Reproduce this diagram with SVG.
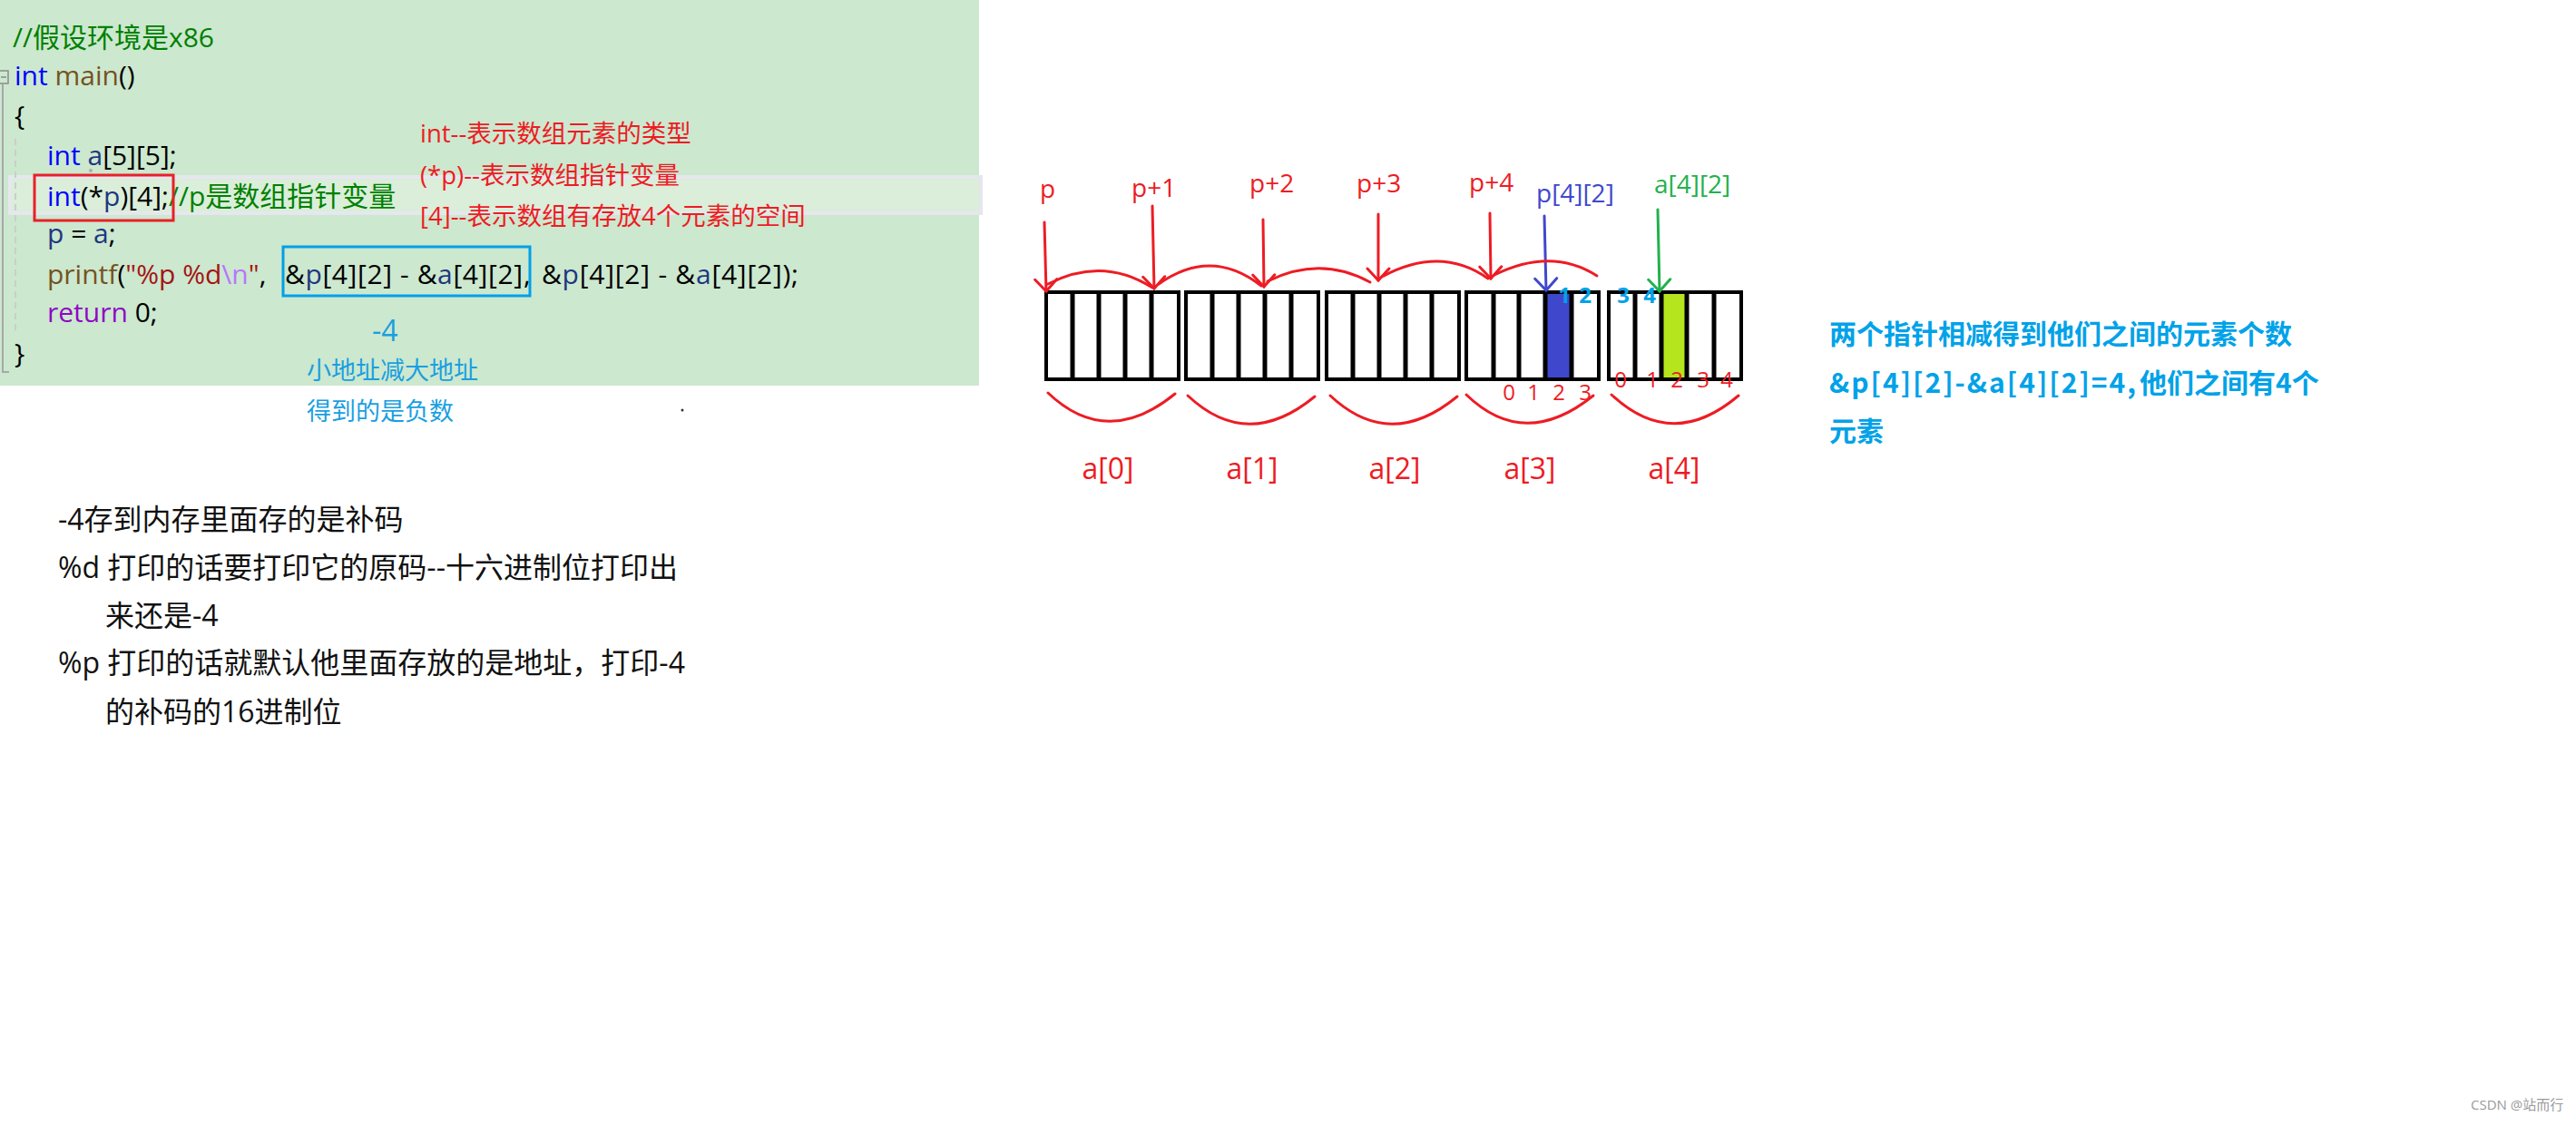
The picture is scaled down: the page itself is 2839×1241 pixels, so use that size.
<svg xmlns="http://www.w3.org/2000/svg" width="2839" height="1241" viewBox="0 0 2839 1241">
<defs>
<style>
text{font-family:'Open Sans','Noto Sans CJK SC',sans-serif;}
.code{font-size:30px;fill:#000;}
.kw{fill:#0000ff}.fn{fill:#74531f}.var{fill:#1f377f}.cm{fill:#008000}.str{fill:#a31515}.esc{fill:#b776fb}.ret{fill:#8f08c4}
.ann{font-size:27.5px;fill:#ed1c24;}
.note{font-size:27px;fill:#1a9fe0;}
.body{font-size:32px;fill:#111;}
.lbl{font-size:28px;fill:#ed1c24;}
.alb{font-size:32px;fill:#ed1c24;text-anchor:middle;}
.idx{font-size:24px;fill:#ed1c24;text-anchor:middle;}
.bidx{font-size:24px;font-weight:700;fill:#00a2e8;text-anchor:middle;}
.right{font-family:'Noto Sans CJK SC',sans-serif;font-size:30px;font-weight:700;fill:#00a2e8;}
.box{fill:#fff;stroke:#000;stroke-width:4;}
.div{stroke:#000;stroke-width:5;}
.red{fill:none;stroke:#ed1c24;stroke-width:3;stroke-linecap:round;}
.blu{fill:none;stroke:#3f48cc;stroke-width:3;stroke-linecap:round;}
.grn{fill:none;stroke:#22b14c;stroke-width:3;stroke-linecap:round;}
</style>
<marker id="hr" viewBox="-16 -14 18 28" markerWidth="18" markerHeight="28" refX="0" refY="0" orient="auto" markerUnits="userSpaceOnUse"><path d="M-13,-12 L0,0 L-13,12" fill="none" stroke="#ed1c24" stroke-width="3" stroke-linecap="round"/></marker>
<marker id="hb" viewBox="-16 -14 18 28" markerWidth="18" markerHeight="28" refX="0" refY="0" orient="auto" markerUnits="userSpaceOnUse"><path d="M-13,-12 L0,0 L-13,12" fill="none" stroke="#3f48cc" stroke-width="3" stroke-linecap="round"/></marker>
<marker id="hg" viewBox="-16 -14 18 28" markerWidth="18" markerHeight="28" refX="0" refY="0" orient="auto" markerUnits="userSpaceOnUse"><path d="M-13,-12 L0,0 L-13,12" fill="none" stroke="#22b14c" stroke-width="3" stroke-linecap="round"/></marker>
</defs>
<rect width="2839" height="1241" fill="#fff"/>

<g id="code">
<rect x="0" y="0" width="1079" height="425" fill="#cce8cf"/>
<rect x="11" y="195" width="1070" height="40" fill="#daeeda" stroke="#e6e7ee" stroke-width="4"/>
<rect x="-4" y="78" width="13" height="14" fill="none" stroke="#8a8a8a" stroke-width="1.5"/>
<line x1="1" y1="85" x2="7" y2="85" stroke="#8a8a8a" stroke-width="1.5"/>
<path d="M3,93 V410 H10" fill="none" stroke="#a8a8a8" stroke-width="2"/>
<line x1="17" y1="153" x2="17" y2="367" stroke="#c9cfc9" stroke-width="2" stroke-dasharray="7,5"/>
<circle cx="100" cy="188" r="2" fill="#a8b0a8"/>
<text class="code" x="14" y="52"><tspan class="cm">//假设环境是x86</tspan></text>
<text class="code" x="16" y="94"><tspan class="kw">int</tspan><tspan class="fn"> main</tspan>()</text>
<text class="code" x="16" y="138">{</text>
<text class="code" x="52" y="182"><tspan class="kw">int</tspan> <tspan class="var">a</tspan>[5][5];</text>
<text class="code" x="52" y="227"><tspan class="kw">int</tspan>(*<tspan class="var">p</tspan>)[4];<tspan class="cm">//p是数组指针变量</tspan></text>
<text class="code" x="52" y="268"><tspan class="var">p</tspan> = <tspan class="var">a</tspan>;</text>
<text class="code" x="52" y="313"><tspan class="fn">printf</tspan>(<tspan class="str">"%p %d</tspan><tspan class="esc">\n</tspan><tspan class="str">"</tspan>, </text>
<text class="code" x="314" y="313" textLength="262" lengthAdjust="spacing">&amp;<tspan class="var">p</tspan>[4][2] - &amp;<tspan class="var">a</tspan>[4][2]</text>
<text class="code" x="577" y="313">,</text>
<text class="code" x="597" y="313" textLength="283" lengthAdjust="spacing">&amp;<tspan class="var">p</tspan>[4][2] - &amp;<tspan class="var">a</tspan>[4][2]);</text>
<text class="code" x="52" y="355"><tspan class="ret">return</tspan> 0;</text>
<text class="code" x="16" y="400">}</text>
<rect x="38" y="193" width="153" height="50" fill="none" stroke="#e8202a" stroke-width="3"/>
<rect x="312" y="272" width="272" height="54" fill="none" stroke="#00a0e8" stroke-width="3"/>
</g>

<g id="annotations">
<text class="ann" x="463" y="157">int--表示数组元素的类型</text>
<text class="ann" x="463" y="203">(*p)--表示数组指针变量</text>
<text class="ann" x="463" y="248">[4]--表示数组有存放4个元素的空间</text>
<text x="410" y="376" font-size="32" fill="#1a9fe0">-4</text>
<text class="note" x="338" y="418">小地址减大地址</text>
<text class="note" x="338" y="463">得到的是负数</text>
<circle cx="752" cy="452" r="1.5" fill="#333"/>
</g>

<g id="explain">
<text class="body" x="64" y="584">-4存到内存里面存的是补码</text>
<text class="body" x="64" y="637">%d 打印的话要打印它的原码--十六进制位打印出</text>
<text class="body" x="116" y="690">来还是-4</text>
<text class="body" x="64" y="742">%p 打印的话就默认他里面存放的是地址，打印-4</text>
<text class="body" x="116" y="796">的补码的16进制位</text>
</g>

<g id="a0">
<rect class="box" x="1153" y="322" width="146" height="96"/>
<path class="div" d="M1182,322V418M1211,322V418M1240,322V418M1269,322V418"/>
<text class="alb" x="1221" y="528">a[0]</text>
</g>
<g id="a1">
<rect class="box" x="1307" y="322" width="146" height="96"/>
<path class="div" d="M1336,322V418M1365,322V418M1394,322V418M1423,322V418"/>
<text class="alb" x="1380" y="528">a[1]</text>
</g>
<g id="a2">
<rect class="box" x="1462" y="322" width="146" height="96"/>
<path class="div" d="M1491,322V418M1520,322V418M1549,322V418M1578,322V418"/>
<text class="alb" x="1537" y="528">a[2]</text>
</g>
<g id="a3">
<rect class="box" x="1616" y="322" width="146" height="96"/>
<rect x="1703" y="322" width="29" height="96" fill="#3f48cc"/>
<path class="div" d="M1646,322V418M1674,322V418M1703,322V418M1732,322V418"/>
<rect x="1616" y="322" width="146" height="96" fill="none" stroke="#000" stroke-width="4"/>
<text class="idx" x="1663" y="441">0</text><text class="idx" x="1690" y="441">1</text><text class="idx" x="1718" y="441">2</text><text class="idx" x="1747" y="441">3</text>
<text class="bidx" x="1724" y="334">1</text><text class="bidx" x="1747" y="334">2</text>
<text class="alb" x="1686" y="528">a[3]</text>
</g>
<g id="a4">
<rect class="box" x="1773" y="322" width="146" height="96"/>
<rect x="1831" y="322" width="28" height="96" fill="#b5e61d"/>
<path class="div" d="M1802,322V418M1831,322V418M1859,322V418M1889,322V418"/>
<rect x="1773" y="322" width="146" height="96" fill="none" stroke="#000" stroke-width="4"/>
<text class="idx" x="1786" y="427">0</text><text class="idx" x="1821" y="427">1</text><text class="idx" x="1848" y="427">2</text><text class="idx" x="1877" y="427">3</text><text class="idx" x="1903" y="427">4</text>
<text class="bidx" x="1789" y="334">3</text><text class="bidx" x="1818" y="334">4</text>
<text class="alb" x="1845" y="528">a[4]</text>
</g>

<g id="labels">
<text class="lbl" x="1146" y="218">p</text>
<text class="lbl" x="1247" y="217">p+1</text>
<text class="lbl" x="1377" y="212">p+2</text>
<text class="lbl" x="1495" y="212">p+3</text>
<text class="lbl" x="1619" y="211">p+4</text>
<text class="lbl" x="1693" y="223" style="fill:#3f48cc">p[4][2]</text>
<text class="lbl" x="1823" y="213" style="fill:#22b14c">a[4][2]</text>
</g>

<g id="connectors">
<path class="red" d="M1151,245 L1153,321" marker-end="url(#hr)"/>
<path class="red" d="M1270,227 L1272,318" marker-end="url(#hr)"/>
<path class="red" d="M1392,242 L1393,316" marker-end="url(#hr)"/>
<path class="red" d="M1519,236 L1519,309" marker-end="url(#hr)"/>
<path class="red" d="M1642,235 L1643,307" marker-end="url(#hr)"/>
<path class="blu" d="M1702,238 L1704,320" marker-end="url(#hb)"/>
<path class="grn" d="M1827,231 L1829,321" marker-end="url(#hg)"/>
<path class="red" d="M1155,313 Q1215,282 1270,317"/>
<path class="red" d="M1277,313 Q1335,272 1390,315"/>
<path class="red" d="M1397,310 Q1455,281 1510,311"/>
<path class="red" d="M1523,305 Q1588,270 1640,307"/>
<path class="red" d="M1647,303 Q1710,272 1760,304"/>
<path class="red" d="M1155,433 Q1220,495 1295,434"/>
<path class="red" d="M1309,436 Q1375,498 1449,437"/>
<path class="red" d="M1466,436 Q1532,498 1606,437"/>
<path class="red" d="M1616,435 Q1680,497 1756,436"/>
<path class="red" d="M1776,435 Q1843,498 1916,436"/>
</g>

<g id="summary">
<text class="right" x="2016" y="379">两个指针相减得到他们之间的元素个数</text>
<text class="right" x="2016" y="433" textLength="338" lengthAdjust="spacing">&amp;p[4][2]-&amp;a[4][2]=4,</text>
<text class="right" x="2358" y="433">他们之间有4个</text>
<text class="right" x="2016" y="486">元素</text>
</g>

<text x="2723" y="1223" font-size="15" fill="#9a9a9a">CSDN @站而行</text>
</svg>
